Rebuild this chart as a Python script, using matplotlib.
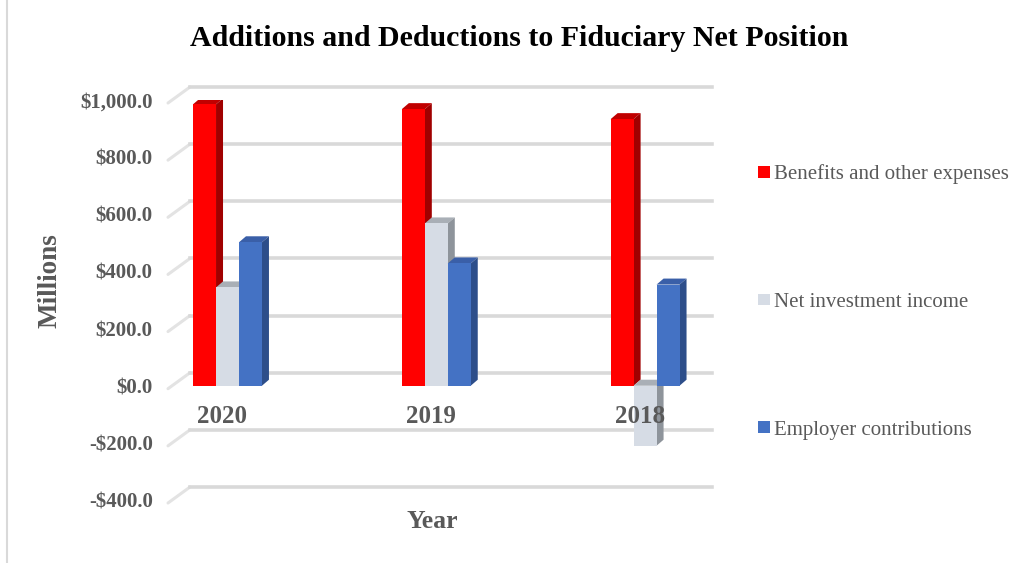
import matplotlib
matplotlib.use("Agg")
import matplotlib.pyplot as plt
from matplotlib.patches import Polygon, Patch
from matplotlib.lines import Line2D

# données (millions $)
years = ["2020", "2019", "2018"]
series = ["Benefits and other expenses", "Net investment income", "Employer contributions"]
benefits = [985, 968, 933]
net_investment = [344, 568, -210]
employer = [502, 428, 354]
y_ticks = [-400, -200, 0, 200, 400, 600, 800, 1000]
y_tick_labels = ["-$400.0", "-$200.0", "$0.0", "$200.0", "$400.0", "$600.0", "$800.0", "$1,000.0"]

front = ["#FF0000", "#D6DCE5", "#4472C4"]
side = ["#A00000", "#8E949B", "#2D4E8A"]
top = ["#C00000", "#A9AFB6", "#3A5FA8"]
grid_col = "#D9D9D9"
txt_col = "#595959"
serif = "Liberation Serif"

W, H = 1015, 563
fig = plt.figure(figsize=(W / 100, H / 100), dpi=100)
L, R, B, T = 168, 700, 500, 100
ax = fig.add_axes([L / W, 1 - B / H, (R - L) / W, (B - T) / H])
xlim = (-0.285, 2.263)
ylim = (-400, 1000)
ax.set_xlim(*xlim)
ax.set_ylim(*ylim)

px_x = (R - L) / (xlim[1] - xlim[0])   # pixels par unité x
px_y = (B - T) / (ylim[1] - ylim[0])   # pixels par unité y

# profondeur du mur du fond et des barres
wall_dx, wall_dy = 22 / px_x, 13 / px_y
bar_dx, bar_dy = 7 / px_x, 6 / px_y

# grille : mur latéral + mur du fond
for v in y_ticks:
    ax.plot([xlim[0], xlim[0] + wall_dx], [v - 3 / px_y, v + wall_dy], color="#E3E3E3",
            lw=2.2, solid_capstyle="round", clip_on=False, zorder=1)
    ax.plot([xlim[0] + wall_dx, xlim[1] - 10 / px_x + wall_dx], [v + wall_dy, v + wall_dy],
            color=grid_col, lw=2.6, clip_on=False, zorder=1)

width = 0.11
values = [benefits, net_investment, employer]
z = 3
for i in range(len(years)):
    for s in range(len(series)):
        x = i + (s - 1) * width
        h = values[s][i]
        ax.bar(x, h, width=width, color=front[s], zorder=z + 2, linewidth=0)
        xr = x + width / 2
        xl = x - width / 2
        lo, hi = min(0, h), max(0, h)
        ax.add_patch(Polygon([(xr, lo), (xr + bar_dx, lo + bar_dy), (xr + bar_dx, hi + bar_dy), (xr, hi)],
                             closed=True, color=side[s], lw=0, zorder=z + 1))
        ax.add_patch(Polygon([(xl, hi), (xl + bar_dx, hi + bar_dy), (xr + bar_dx, hi + bar_dy), (xr, hi)],
                             closed=True, color=top[s], lw=0, zorder=z))
        z += 3

for i, yr in enumerate(years):
    ax.text(i - 0.025, -108, yr, ha="center", va="center", fontsize=18, fontweight="bold",
            family=serif, color=txt_col, zorder=50)

ax.set_yticks(y_ticks)
ax.set_yticklabels(y_tick_labels)
ax.set_xticks([])
ax.tick_params(axis="y", length=0, pad=11)
for lab in ax.get_yticklabels():
    lab.set_fontfamily(serif)
    lab.set_fontweight("bold")
    lab.set_fontsize(15)
    lab.set_color(txt_col)
for sp in ax.spines.values():
    sp.set_visible(False)
ax.patch.set_alpha(0)

fig.text(519 / W, 1 - 38 / H, "Additions and Deductions to Fiduciary Net Position", ha="center", va="center",
         fontsize=21.5, fontweight="bold", family=serif, color="black")
fig.text(50 / W, 1 - 281 / H, "Millions", rotation=90, ha="center", va="center",
         fontsize=19.5, fontweight="bold", family=serif, color=txt_col)
fig.text(432 / W, 1 - 522 / H, "Year", ha="center", va="center",
         fontsize=18.5, fontweight="bold", family=serif, color=txt_col)

handles = [Patch(facecolor=c, edgecolor="none") for c in front]
leg = fig.legend(handles, series, loc="center left", bbox_to_anchor=(739 / W, 1 - 302 / H),
                 frameon=False, handlelength=0.6, handleheight=0.5, handletextpad=0.2,
                 labelspacing=5.22, prop={"family": serif, "size": 15})
for t in leg.get_texts():
    t.set_color(txt_col)

# bordure gauche du cadre
fig.add_artist(Line2D([7 / W, 7 / W], [0, 1], color="#D9D9D9", lw=1.5))

fig.savefig("out.png", dpi=100)
